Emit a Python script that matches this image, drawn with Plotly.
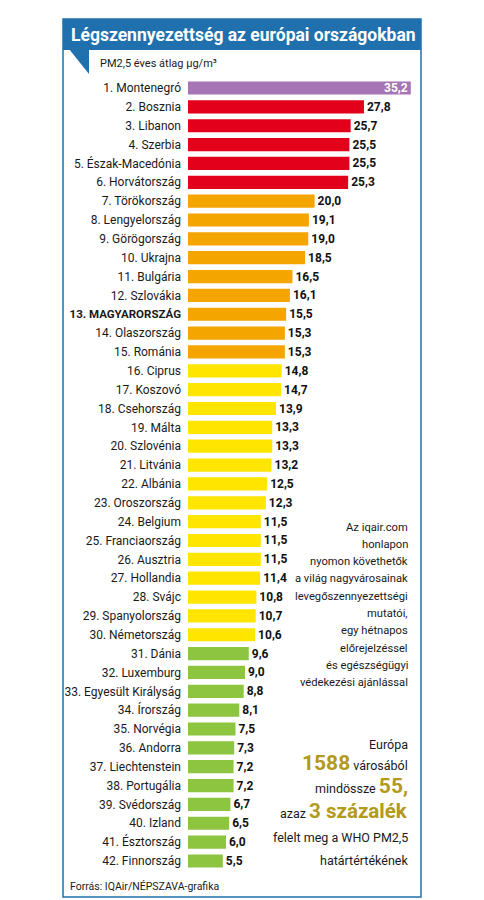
import plotly.graph_objects as go

W, H = 484, 900
# the page puts the figure 8 px in from the top-left corner
OX, OY = 8, 8

countries = [
    "Montenegró", "Bosznia", "Libanon", "Szerbia", "Észak-Macedónia", "Horvátország",
    "Törökország", "Lengyelország", "Görögország", "Ukrajna", "Bulgária", "Szlovákia",
    "MAGYARORSZÁG", "Olaszország", "Románia", "Ciprus", "Koszovó", "Csehország",
    "Málta", "Szlovénia", "Litvánia", "Albánia", "Oroszország", "Belgium",
    "Franciaország", "Ausztria", "Hollandia", "Svájc", "Spanyolország", "Németország",
    "Dánia", "Luxemburg", "Egyesült Királyság", "Írország", "Norvégia", "Andorra",
    "Liechtenstein", "Portugália", "Svédország", "Izland", "Észtország", "Finnország",
]
pm25 = [
    35.2, 27.8, 25.7, 25.5, 25.5, 25.3,
    20.0, 19.1, 19.0, 18.5, 16.5, 16.1,
    15.5, 15.3, 15.3, 14.8, 14.7, 13.9,
    13.3, 13.3, 13.2, 12.5, 12.3, 11.5,
    11.5, 11.5, 11.4, 10.8, 10.7, 10.6,
    9.6, 9.0, 8.8, 8.1, 7.5, 7.3,
    7.2, 7.2, 6.7, 6.5, 6.0, 5.5,
]
# colour groups: (number of countries, colour)
groups = [
    (1, "#a675b3"),
    (5, "#e3001b"),
    (9, "#f5a500"),
    (15, "#ffe500"),
    (12, "#8dc540"),
]
highlight = "MAGYARORSZÁG"

FONT = "Roboto, Liberation Sans, sans-serif"
BLUE = "#1f70ad"
GOLD = "#b39a1c"


def px(x):
    return (x - OX) / W


def py(y):
    return 1 - (y - OY) / H


colors = []
for n, c in groups:
    colors += [c] * n

labels = []
for i, name in enumerate(countries):
    lab = f"{i + 1}. {name}"
    if name == highlight:
        lab = f"<span style='font-size:11.5px'><b>{lab}</b></span>"
    labels.append(lab)

idx = list(range(len(countries)))
positions = ["inside"] + ["outside"] * (len(countries) - 1)
text_colors = ["white"] + ["#111111"] * (len(countries) - 1)

fig = go.Figure(
    go.Bar(
        x=pm25,
        y=idx,
        orientation="h",
        marker=dict(color=colors, line_width=0),
        width=0.7,
        texttemplate="%{x:.1f}",
        textposition=positions,
        insidetextanchor="end",
        constraintext="none",
        textfont=dict(family=FONT, size=12, color=text_colors, weight="bold"),
        cliponaxis=False,
        hoverinfo="skip",
    )
)

top_px, bottom_px = 78.6, 870.4
fig.update_layout(
    width=W,
    height=H,
    margin=dict(l=0, r=0, t=0, b=0, autoexpand=False),
    paper_bgcolor="white",
    plot_bgcolor="white",
    separators=", ",
    showlegend=False,
    font=dict(family=FONT, color="#1a1a1a"),
    xaxis=dict(
        domain=[px(188), px(421)],
        range=[0, 233 / 6.33],
        visible=False,
        automargin=False,
    ),
    yaxis=dict(
        domain=[py(bottom_px), py(top_px)],
        range=[len(countries) - 0.5, -0.5],
        tickvals=idx,
        ticktext=labels,
        ticks="",
        showgrid=False,
        zeroline=False,
        showline=False,
        automargin=False,
        ticklabelstandoff=6,
        tickfont=dict(family=FONT, size=12, color="#1a1a1a"),
    ),
)

# frame, title bar and notch
fig.add_shape(type="rect", xref="paper", yref="paper",
              x0=px(63), x1=px(421), y0=py(897), y1=py(19),
              line=dict(color=BLUE, width=1.5), fillcolor="rgba(0,0,0,0)")
fig.add_shape(type="rect", xref="paper", yref="paper",
              x0=px(63), x1=px(421), y0=py(50), y1=py(19),
              line=dict(width=0), fillcolor=BLUE)
fig.add_shape(type="path", xref="paper", yref="paper",
              path=f"M {px(69)} {py(49)} L {px(89)} {py(49)} L {px(89)} {py(74)} Z",
              line=dict(width=0), fillcolor=BLUE)

fig.add_annotation(xref="paper", yref="paper", x=px(243), y=py(35),
                   text="<b>Légszennyezettség az európai országokban</b>",
                   showarrow=False, xanchor="center", yanchor="middle",
                   font=dict(family=FONT, size=17.5, color="white"))
fig.add_annotation(xref="paper", yref="paper", x=px(98), y=py(64),
                   text="PM2,5 éves átlag µg/m³",
                   showarrow=False, xanchor="left", yanchor="middle",
                   font=dict(family=FONT, size=11, color="#1a1a1a"))
fig.add_annotation(xref="paper", yref="paper", x=px(68), y=py(886),
                   text="Forrás: IQAir/NÉPSZAVA-grafika",
                   showarrow=False, xanchor="left", yanchor="middle",
                   font=dict(family=FONT, size=10.5, color="#1a1a1a"))

note1 = [
    "Az iqair.com", "honlapon", "nyomon követhetők", "a világ nagyvárosainak",
    "levegőszennyezettségi", "mutatói,", "egy hétnapos", "előrejelzéssel",
    "és egészségügyi", "védekezési ajánlással",
]
for k, line in enumerate(note1):
    fig.add_annotation(xref="paper", yref="paper", x=px(410), y=py(527 + k * 17.3),
                       text=line, showarrow=False, xanchor="right", yanchor="middle",
                       font=dict(family=FONT, size=11.2, color="#1a1a1a"))


def gold(s, size):
    return f"<span style='font-size:{size}px;color:{GOLD}'><b>{s}</b></span>"


note2 = [
    ("Európa", 744),
    (gold("1588", 21) + " városából", 763),
    ("mindössze " + gold("55,", 21), 786),
    ("azaz " + gold("3 százalék", 20.5), 811),
    ("felelt meg a WHO PM2,5", 837),
    ("határtértékének", 860),
]
for line, y in note2:
    fig.add_annotation(xref="paper", yref="paper", x=px(410), y=py(y),
                       text=line, showarrow=False, xanchor="right", yanchor="middle",
                       font=dict(family=FONT, size=12.5, color="#1a1a1a"))

fig.write_html("out.html")
